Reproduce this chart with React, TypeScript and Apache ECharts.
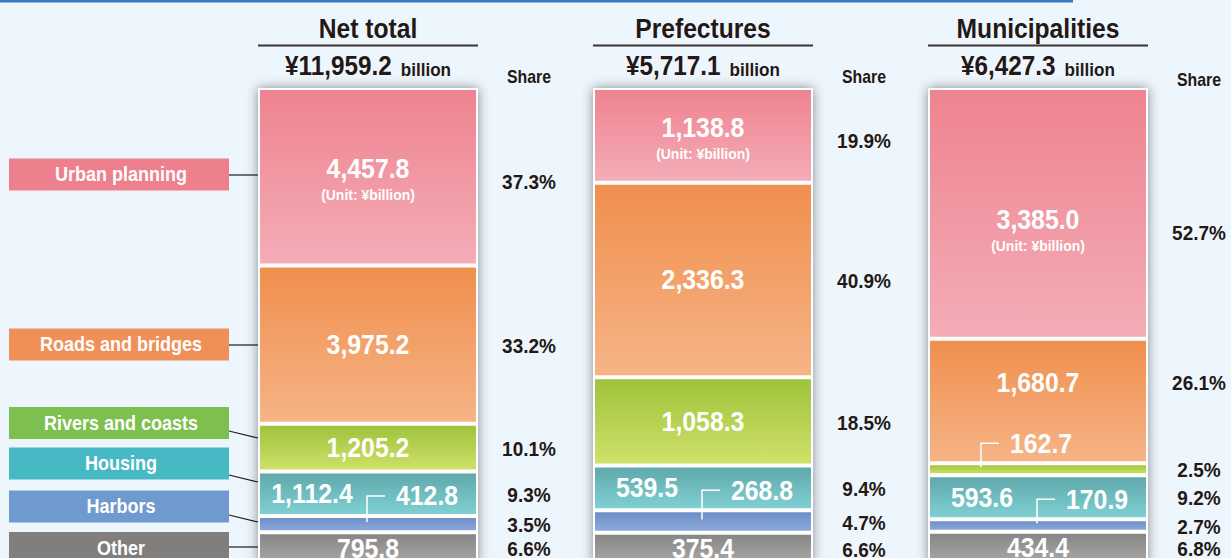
import React, { useEffect, useRef } from "react";
import * as echarts from "echarts";

// ---- data ----
const categories = ["Net total", "Prefectures", "Municipalities"];
const purposes = ["Urban planning", "Roads and bridges", "Rivers and coasts", "Housing", "Harbors", "Other"];
const urbanPlanning = [4457.8, 1138.8, 3385.0];
const roadsBridges = [3975.2, 2336.3, 1680.7];
const riversCoasts = [1205.2, 1058.3, 162.7];
const housing = [1112.4, 539.5, 593.6];
const harbors = [412.8, 268.8, 170.9];
const other = [795.8, 375.4, 434.4];
const shareNetTotal = [37.3, 33.2, 10.1, 9.3, 3.5, 6.6];
const sharePrefectures = [19.9, 40.9, 18.5, 9.4, 4.7, 6.6];
const shareMunicipalities = [52.7, 26.1, 2.5, 9.2, 2.7, 6.8];

const seriesValues = [urbanPlanning, roadsBridges, riversCoasts, housing, harbors, other];
const shares = [shareNetTotal, sharePrefectures, shareMunicipalities];

// ---- styles / layout ----
const legendColors = ["#ee808d", "#f09058", "#7dc04f", "#47b9c5", "#6f9ad0", "#807f7d"];
const gradTop = ["#ee8390", "#f08f4e", "#9ec23a", "#5fa7aa", "#6b8dc6", "#858585"];
const gradBottom = ["#f4adb7", "#f6b486", "#d0e16a", "#80d1d4", "#8dabdc", "#aaa8a6"];
const FONT = "'Liberation Sans', Arial, Helvetica, sans-serif";
const DARK = "#231815";
const BAR_W = 220;
const legendCY = [174.5, 344.5, 423, 463.5, 506.5, 548];
const legendLineY = [[175, 175], [345, 345], [431, 438], [475, 482], [515, 522], [547, 547]];
const shareLabelY = [77, 77, 80];
const urbanLabelDy = [-8, -8, 6];

const fmt = (v: number) =>
  v.toLocaleString("en-US", { minimumFractionDigits: 1, maximumFractionDigits: 1 });

function T(x: number, y: number, text: string, size: number, fill: string, align = "center", sx = 0.9): any {
  return {
    type: "text",
    x,
    y,
    scaleX: sx,
    z: 50,
    silent: true,
    style: {
      text,
      font: `bold ${size}px ${FONT}`,
      fill,
      align,
      verticalAlign: "middle",
      textAlign: align,
      textVerticalAlign: "middle",
    },
  };
}

export default function App() {
  const ref = useRef<HTMLDivElement>(null);
  useEffect(() => {
    document.body.style.margin = "0";
    const chart = echarts.init(ref.current!, null, { renderer: "svg" });
    const totals = categories.map((_, c) => seriesValues.reduce((a, arr) => a + arr[c], 0));
    const pct = seriesValues.map((arr) => arr.map((v, c) => (v / totals[c]) * 100));

    const frame = {
      type: "bar",
      name: "frame",
      barWidth: BAR_W,
      barGap: "-100%",
      silent: true,
      data: categories.map(() => 100),
      itemStyle: { color: "#ffffff", shadowBlur: 12, shadowColor: "rgba(0,0,0,0.45)" },
    };
    const bars = purposes.map((name, s) => ({
      type: "bar",
      name,
      stack: "all",
      barWidth: BAR_W,
      barGap: "-100%",
      silent: true,
      data: pct[s],
      itemStyle: {
        color: new echarts.graphic.LinearGradient(0, 0, 0, 1, [
          { offset: 0, color: gradTop[s] },
          { offset: 1, color: gradBottom[s] },
        ]),
        borderColor: "#ffffff",
        borderWidth: 2,
      },
    }));

    chart.setOption({
      animation: false,
      backgroundColor: "#eef6fd",
      grid: { left: 200.5, width: 1005, top: 88, height: 476, outerBoundsMode: "none", containLabel: false },
      xAxis: { type: "category", data: categories, show: false },
      yAxis: { type: "value", min: 0, max: 100, inverse: true, show: false },
      series: [frame, ...bars],
    });

    const xPix = (c: number) => chart.convertToPixel({ xAxisIndex: 0 }, c) as number;
    const yPix = (v: number) => chart.convertToPixel({ yAxisIndex: 0 }, v) as number;

    const g: any[] = [];
    g.push({ type: "rect", shape: { x: 0, y: 0, width: 1073, height: 2.5 }, style: { fill: "#3b79c2" }, z: 50, silent: true });

    const barLeft0 = xPix(0) - BAR_W / 2;
    purposes.forEach((p, s) => {
      g.push({
        type: "rect",
        shape: { x: 9, y: legendCY[s] - 16, width: 220, height: 32 },
        style: { fill: legendColors[s] },
        z: 50,
        silent: true,
      });
      g.push(T(121, legendCY[s], p, 20, "#ffffff", "center", 0.9));
      g.push({
        type: "line",
        shape: { x1: 229, y1: legendLineY[s][0], x2: barLeft0, y2: legendLineY[s][1] },
        style: { stroke: DARK, lineWidth: 1.2 },
        z: 50,
        silent: true,
      });
    });

    categories.forEach((cat, c) => {
      const xc = xPix(c);
      const left = xc - BAR_W / 2;
      const right = xc + BAR_W / 2;
      const pctX = right + 51;
      g.push(T(xc, 28, cat, 28, DARK, "center", 0.88));
      g.push({
        type: "line",
        shape: { x1: left, y1: 45.5, x2: right, y2: 45.5 },
        style: { stroke: "#3b3536", lineWidth: 2 },
        z: 50,
        silent: true,
      });
      g.push({
        type: "text",
        x: xc,
        y: 66,
        scaleX: 0.9,
        z: 50,
        silent: true,
        style: {
          text: `{a|¥${fmt(totals[c])}}{s| }{b|billion}`,
          align: "center",
          verticalAlign: "middle",
          textAlign: "center",
          textVerticalAlign: "middle",
          rich: {
            a: { font: `bold 27px ${FONT}`, fill: DARK, verticalAlign: "bottom" },
            s: { font: `bold 19px ${FONT}`, fill: DARK, width: 10, verticalAlign: "bottom" },
            b: { font: `bold 19px ${FONT}`, fill: DARK, verticalAlign: "bottom" },
          },
        },
      });
      g.push(T(pctX, shareLabelY[c], "Share", 18, DARK, "center", 0.88));

      let cum = 0;
      const segs = pct.map((arr) => {
        const top = yPix(cum);
        cum += arr[c];
        const bottom = yPix(cum);
        return { top, bottom, center: (top + bottom) / 2, h: bottom - top, p: 0 };
      });
      segs.forEach((sg, s) => (sg.p = pct[s][c]));
      const small = segs.map((sg) => sg.p < 5);

      const labelX = segs.map(() => xc);
      const labelY = segs.map((sg) => sg.center);
      const pctY = segs.map((sg) => sg.center + 1);
      const callout: any[] = segs.map(() => null);

      segs.forEach((sg, s) => {
        if (s + 1 < segs.length && small[s + 1]) {
          let elbowX: number;
          if (sg.h < 60) {
            labelX[s] = xc - 56;
            elbowX = xc - 1;
          } else {
            labelY[s] = sg.center - 18;
            pctY[s] = labelY[s];
            elbowX = xc - 57;
          }
          const cy = Math.max(sg.center + 2, sg.bottom - 20);
          callout[s + 1] = { elbowX, cy };
        }
      });

      segs.forEach((sg, s) => {
        const v = seriesValues[s][c];
        if (s === 0) {
          const vy = sg.center + urbanLabelDy[c];
          g.push(T(labelX[s], vy, fmt(v), 27, "#ffffff", "center", 0.92));
          g.push(T(labelX[s], vy + 26, "(Unit: ¥billion)", 15, "#ffffff", "center", 0.93));
          pctY[0] = vy + 13;
        } else if (small[s] && callout[s]) {
          const { elbowX, cy } = callout[s];
          g.push({
            type: "polyline",
            shape: { points: [[elbowX + 18, cy], [elbowX, cy], [elbowX, sg.center - 2]] },
            style: { stroke: "#ffffff", lineWidth: 1.5, fill: null },
            z: 50,
            silent: true,
          });
          g.push(T(elbowX + 29, cy, fmt(v), 27, "#ffffff", "left", 0.92));
        } else {
          g.push(T(labelX[s], labelY[s], fmt(v), 27, "#ffffff", "center", 0.92));
        }
        g.push(T(pctX, pctY[s], `${shares[c][s].toFixed(1)}%`, 20, DARK, "center", 0.95));
      });
    });

    chart.setOption({ graphic: g });
    return () => chart.dispose();
  }, []);
  return <div ref={ref} style={{ width: 1231, height: 558 }} />;
}
